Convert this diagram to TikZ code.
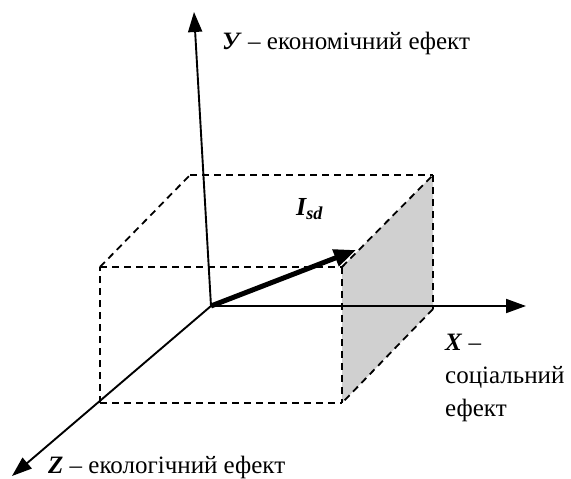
\documentclass[tikz,border=0pt]{standalone}
\usepackage{fontspec}
\setmainfont{Liberation Serif}
\usetikzlibrary{arrows.meta}
\definecolor{facegray}{RGB}{208,208,208}
\begin{document}
\begin{tikzpicture}[x=1pt,y=-1pt,
  axis/.style={line width=1.9pt,-{Triangle[length=20pt,width=14pt]}},
  hid/.style={line width=1.8pt,dash pattern=on 7pt off 5pt},
  vec/.style={line width=5pt,-{Triangle[length=22pt,width=17pt]}},
  lbl/.style={font=\fontsize{25}{33}\selectfont,inner sep=0pt,anchor=base west,align=left},
]
\useasboundingbox (0,0) rectangle (571,479);
% origin and axis tips
\coordinate (O) at (211,306);
\coordinate (Ytip) at (194,12);
\coordinate (Xtip) at (526,306);
\coordinate (Ztip) at (12,476);
% box corners
\coordinate (A) at (100,267);
\coordinate (B) at (342,267);
\coordinate (C) at (342,403);
\coordinate (D) at (100,403);
\coordinate (E) at (190,175);
\coordinate (F) at (433,175);
\coordinate (G) at (433,309);
\coordinate (V) at (356,250);
% shaded face
\fill[facegray] (B) -- (F) -- (G) -- (C) -- cycle;
% dashed box edges
\draw[hid] (A) -- (B);
\draw[hid] (D) -- (A);
\draw[hid] (D) -- (C);
\draw[hid] (B) -- (C);
\draw[hid] (A) -- (E);
\draw[hid] (E) -- (F);
\draw[hid] (B) -- (F);
\draw[hid] (F) -- (G);
\draw[hid] (G) -- (C);
% axes
\draw[axis] (O) -- (Ytip);
\draw[axis] (O) -- (Xtip);
\draw[axis] (O) -- (Ztip);
% vector
\draw[vec] (O) -- (V);
% labels
\node[lbl] (ylab) at (222,49) {\textbf{\textit{У}} – економічний ефект};
\node[lbl] (xlab) at (445,416) {\textbf{\textit{X}} –\\соціальний\\ефект};
\node[lbl] (zlab) at (48,473) {\textbf{\textit{Z}} – екологічний ефект};
\node[lbl,font=\fontsize{26}{30}\selectfont] (isd) at (296,215) {\textbf{\textit{I\textsubscript{sd}}}};
\end{tikzpicture}
\end{document}
